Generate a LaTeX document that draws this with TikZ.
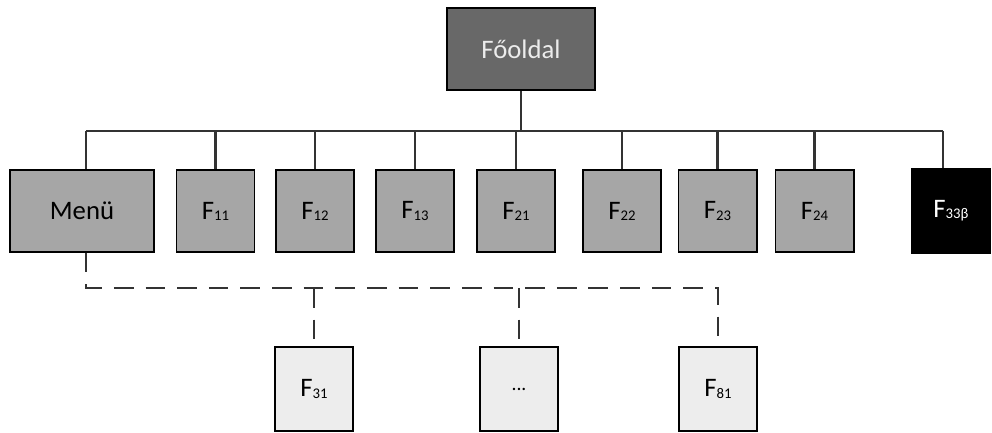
\documentclass[tikz,border=0pt]{standalone}
\usepackage{fontspec}
\setmainfont{Carlito}
\usepackage{tikz}
\usetikzlibrary{positioning}

\definecolor{topgray}{HTML}{686868}
\definecolor{midgray}{HTML}{A6A6A6}
\definecolor{lowgray}{HTML}{EDEDED}
\definecolor{linegray}{HTML}{333333}

\newcommand\idx[1]{\raisebox{-0.8pt}{\fontsize{10.5}{11}\selectfont #1}}

\begin{document}
\begin{tikzpicture}
    [x=0.025cm,y=-0.025cm,
     page/.style={rectangle,draw=black,line width=1.4pt,minimum width=1.95cm,
       minimum height=2.03cm,inner sep=0pt,font=\fontsize{19}{22}\selectfont},
     main/.style={page,fill=midgray},
     sub/.style={page,fill=lowgray,minimum height=2.08cm},
     link/.style={draw=linegray,line width=1.5pt},
     dlink/.style={link,dash pattern=on 14pt off 8.5pt}]

    \useasboundingbox (0,0) rectangle (992,433);

    \node[page,fill=topgray,text=white!85!gray,minimum width=3.7cm,minimum height=2.05cm] (top) at (521,49) {Főoldal};

    \node[main,minimum width=3.6cm] (menu) at (82,211) {Menü};
    \node[main] (f11) at (215.5,211) {F\idx{11}};
    \node[main] (f12) at (315,211) {F\idx{12}};
    \node[main] (f13) at (415,211) {F\idx{13}};
    \node[main] (f21) at (516,211) {F\idx{21}};
    \node[main] (f22) at (622,211) {F\idx{22}};
    \node[main] (f23) at (717.5,211) {F\idx{23}};
    \node[main] (f24) at (814.5,211) {F\idx{24}};
    \node[main,fill=black,text=white,minimum height=2.1cm] (f33) at (951,211) {F\idx{33β}};

    \node[sub] (f31) at (314,389) {F\idx{31}};
    \node[sub] (dots) at (519,389) {\fontsize{14}{14}\selectfont\raisebox{-2pt}{...}};
    \node[sub] (f81) at (718,389) {F\idx{81}};

    % solid tree
    \coordinate (busL) at (86,131);
    \coordinate (busR) at (943,131);
    \draw[link] (busL) -- (busR);
    \draw[link] (top.south) -- (top.south |- busL);
    \draw[link] (busL) -- (busL |- menu.north);
    \foreach \n in {f11,f12,f13,f21,f22,f23,f24}
      \draw[link] (\n.north) -- (\n.north |- busL);
    \draw[link] (busR) -- (busR |- f33.north);

    % dashed menu links
    \coordinate (dashL) at (86,288);
    \draw[dlink] (busL |- menu.south) -- (dashL) -- (dashL -| f81.north) -- (f81.north);
    \draw[dlink] (f31.north |- dashL) -- (f31.north);
    \draw[dlink] (dots.north |- dashL) -- (dots.north);
\end{tikzpicture}
\end{document}
